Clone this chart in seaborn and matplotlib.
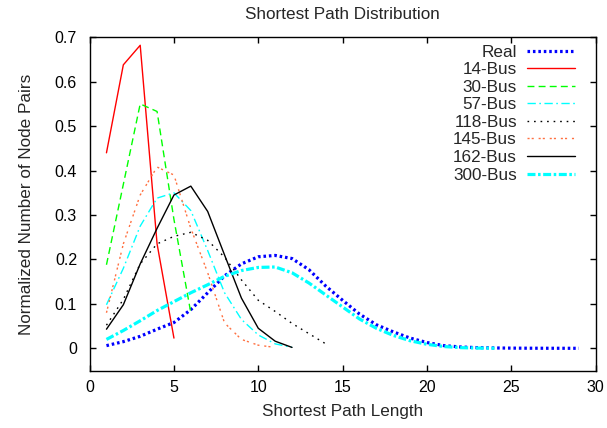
import matplotlib
matplotlib.use("Agg")
import matplotlib.pyplot as plt
import seaborn as sns

# shortest path length distributions
x_real = list(range(1, 30))
y_real = [0.006, 0.015, 0.027, 0.043, 0.058, 0.087, 0.125, 0.163, 0.190, 0.206,
          0.209, 0.202, 0.177, 0.140, 0.108, 0.077, 0.053, 0.037, 0.023, 0.013,
          0.006, 0.003, 0.0015, 0.0008, 0.0004, 0.0002, 0.0001, 0.00005, 0.0]
x_14 = [1, 2, 3, 4, 5]
y_14 = [0.44, 0.638, 0.682, 0.235, 0.023]
x_30 = [1, 2, 3, 4, 5, 6]
y_30 = [0.188, 0.369, 0.55, 0.533, 0.29, 0.08]
x_57 = list(range(1, 13))
y_57 = [0.098, 0.18, 0.275, 0.338, 0.35, 0.31, 0.22, 0.125, 0.065, 0.03, 0.01, 0.002]
x_118 = list(range(1, 15))
y_118 = [0.052, 0.11, 0.19, 0.235, 0.252, 0.261, 0.243, 0.205, 0.154, 0.108,
         0.083, 0.056, 0.033, 0.01]
x_145 = list(range(1, 12))
y_145 = [0.08, 0.235, 0.345, 0.408, 0.39, 0.27, 0.17, 0.057, 0.02, 0.007, 0.002]
x_162 = list(range(1, 13))
y_162 = [0.043, 0.098, 0.19, 0.27, 0.345, 0.365, 0.308, 0.21, 0.113, 0.045, 0.016, 0.002]
x_300 = list(range(1, 25))
y_300 = [0.02, 0.04, 0.062, 0.085, 0.105, 0.125, 0.143, 0.162, 0.175, 0.182,
         0.183, 0.17, 0.147, 0.12, 0.093, 0.066, 0.045, 0.029, 0.017, 0.009,
         0.004, 0.0015, 0.0005, 0.0002]

sns.set_theme(style="ticks")
plt.rcParams['font.family'] = ['Liberation Sans', 'DejaVu Sans']
fs = 12.3
tfs = 11.5

fig = plt.figure(figsize=(6.07, 4.28), dpi=100)
ax = fig.add_axes([0.1476, 0.1343, 0.8338, 0.7786])

series = [
    ("Real", x_real, y_real, "#0000ff", 2.3, (0, (0.8, 0.9))),
    ("14-Bus", x_14, y_14, "#ff0000", 1.0, "-"),
    ("30-Bus", x_30, y_30, "#00ff00", 1.0, (0, (5, 3))),
    ("57-Bus", x_57, y_57, "#00ffff", 1.0, (0, (6, 2.5, 1.2, 2.5))),
    ("118-Bus", x_118, y_118, "#000000", 1.0, (0, (1.2, 3.5))),
    ("145-Bus", x_145, y_145, "#ff7040", 1.0, (0, (1.5, 1.5, 1.5, 3.5))),
    ("162-Bus", x_162, y_162, "#000000", 1.0, "-"),
    ("300-Bus", x_300, y_300, "#00ffff", 2.3, (0, (2.5, 0.8, 0.8, 0.8))),
]
for name, xs, ys, col, lw, ls in series:
    sns.lineplot(x=xs, y=ys, ax=ax, color=col, lw=lw, linestyle=ls, label=name)

ax.set_xlim(0, 30)
ax.set_ylim(-0.05, 0.7)
ax.set_xticks([0, 5, 10, 15, 20, 25, 30])
ax.set_yticks([0, 0.1, 0.2, 0.3, 0.4, 0.5, 0.6, 0.7])
ax.set_yticklabels(["0", "0.1", "0.2", "0.3", "0.4", "0.5", "0.6", "0.7"])
ax.tick_params(direction="in", length=4, width=1, top=True, right=True,
               labelsize=tfs, colors="black")
ax.tick_params(axis="x", pad=7)
ax.tick_params(axis="y", pad=9)
for s in ax.spines.values():
    s.set_visible(True)
    s.set_color("black")
    s.set_linewidth(1.0)

ax.set_title("Shortest Path Distribution", fontsize=fs, pad=13)
ax.set_xlabel("Shortest Path Length", fontsize=fs, labelpad=6)
ax.set_ylabel("Normalized Number of Node Pairs", fontsize=fs, labelpad=15)

leg = ax.legend(loc="upper right", bbox_to_anchor=(0.959, 0.978), frameon=False,
                markerfirst=False, fontsize=fs, handlelength=2.8,
                handletextpad=0.6, labelspacing=0.15, borderpad=0, borderaxespad=0)

fig.savefig("out.png", dpi=100)
